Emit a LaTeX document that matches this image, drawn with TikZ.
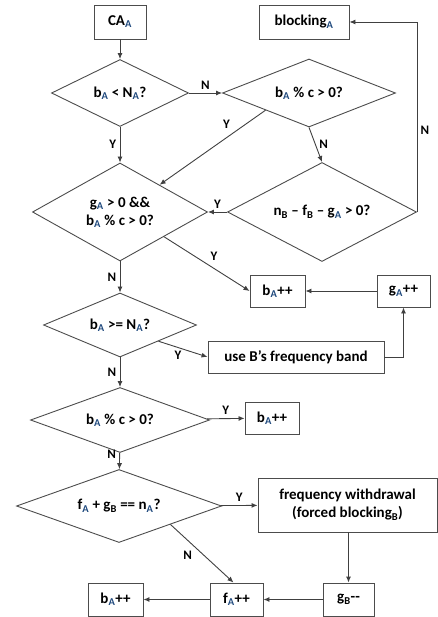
\documentclass[tikz,border=0pt]{standalone}
\usepackage{fontspec}
\setmainfont{Carlito}
\usetikzlibrary{shapes.geometric,arrows.meta,positioning,calc}
\definecolor{subblue}{RGB}{31,73,125}
\newcommand{\sbA}{\textsubscript{\color{subblue}A}}
\newcommand{\sbB}{\textsubscript{B}}

\begin{document}
\begin{tikzpicture}[x=1pt,y=-1pt,
    font=\fontsize{15}{18}\selectfont\bfseries,
    line width=0.9pt,
    >={Latex[length=6pt,width=5pt]},
    box/.style={draw=black!70,rectangle,inner sep=0pt,minimum height=32pt},
    cond/.style={draw=black!70,diamond,aspect=2,inner sep=0pt,align=center},
    lab/.style={font=\fontsize{13}{15}\selectfont\bfseries,black}]
    \useasboundingbox (0,0) rectangle (438,617);

    % boxes
    \node[box,minimum width=52pt,minimum height=34pt] (ca) at (120,22) {CA\sbA};
    \node[box,minimum width=90pt,minimum height=34pt] (block) at (304,22) {blocking\sbA};
    \node[box,minimum width=55pt] (inc1) at (277.5,291) {b\sbA++};
    \node[box,minimum width=53pt] (ginc) at (403.5,291) {g\sbA++};
    \node[box,minimum width=176pt] (useb) at (296,357) {use B’s frequency band};
    \node[box,minimum width=54pt] (inc2) at (272,418) {b\sbA++};
    \node[box,minimum width=179pt,minimum height=54pt,align=center] (withdraw) at (347.5,505)
        {frequency withdrawal\\(forced blocking\sbB)};
    \node[box,minimum width=51pt,minimum height=33pt] (gdec) at (348.5,599.5) {g\sbB{-}{-}};
    \node[box,minimum width=53pt,minimum height=33pt] (finc) at (236.5,599.5) {f\sbA++};
    \node[box,minimum width=55pt,minimum height=33pt] (inc3) at (115.5,599.5) {b\sbA++};

    % decisions
    \node[cond,minimum width=137pt,minimum height=67pt] (c1) at (120,93) {b\sbA{} < N\sbA?};
    \node[cond,minimum width=173pt,minimum height=68pt] (c2) at (309,93) {b\sbA{} \% c > 0?};
    \node[cond,minimum width=175pt,minimum height=98pt] (c3) at (120,212)
        {g\sbA{} > 0 \&\&\\b\sbA{} \% c > 0?};
    \node[cond,minimum width=189pt,minimum height=99pt] (c4) at (322,212)
        {n\sbB{} – f\sbB{} – g\sbA{} > 0?};
    \node[cond,minimum width=153pt,minimum height=64pt] (c5) at (120,325) {b\sbA{} >= N\sbA?};
    \node[cond,minimum width=179pt,minimum height=65pt] (c6) at (120,420) {b\sbA{} \% c > 0?};
    \node[cond,minimum width=205pt,minimum height=73pt] (c7) at (119,506) {f\sbA{} + g\sbB{} == n\sbA?};

    % connectors
    \draw[->,black!75] (ca) -- (c1);
    \draw[->,black!75] (c1) -- node[lab,above] {N} (c2);
    \draw[->,black!75] (c1) -- node[lab,left] {Y} (c3);
    \draw[->,black!75] (c2.south west) -- node[lab,pos=0.3,above left] {Y}
        ($(c3.north)!0.45!(c3.east)$);
    \draw[->,black!75] (c2.south) -- node[lab,right] {N} (c4.north);
    \draw[->,black!75] (c4.east) -- ++(0,-190) node[lab,pos=0.43,right] {N} |- (block.east);
    \draw[->,black!75] (c4) -- node[lab,above] {Y} (c3);
    \draw[->,black!75] (c3.south east) -- node[lab,pos=0.5,above right] {Y} (inc1.west);
    \draw[->,black!75] (ginc) -- (inc1);
    \draw[->,black!75] (c3) -- node[lab,left] {N} (c5);
    \draw[->,black!75] (c5.south east) -- node[lab,pos=0.4,below] {Y} (useb.west);
    \draw[->,black!75] (useb.east) -| (ginc.south);
    \draw[->,black!75] (c5) -- node[lab,left] {N} (c6);
    \draw[->,black!75] (c6) -- node[lab,above] {Y} (inc2);
    \draw[->,black!75] (c6) -- node[lab,left,pos=0.1] {N} (c7);
    \draw[->,black!75] (c7) -- node[lab,above] {Y} (withdraw);
    \draw[->,black!75] (c7.south east) -- node[lab,pos=0.4,below left] {N} ($(finc.north)+(-3,0)$);
    \draw[->,black!75] (withdraw.south -| gdec) -- (gdec);
    \draw[->,black!75] (gdec) -- (finc);
    \draw[->,black!75] (finc) -- (inc3);
\end{tikzpicture}
\end{document}
